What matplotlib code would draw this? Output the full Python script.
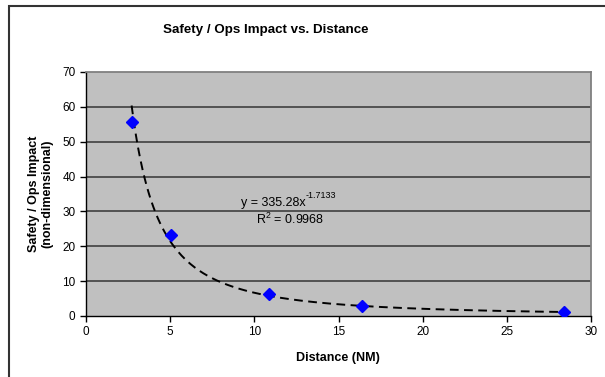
import matplotlib
matplotlib.use('Agg')
import matplotlib.pyplot as plt
from matplotlib.patches import Rectangle
import numpy as np

plt.rcParams['font.family'] = ['Liberation Sans', 'DejaVu Sans']

# data
distance = [2.71, 5.03, 10.89, 16.4, 28.42]
impact = [55.6, 23.1, 6.2, 2.8, 1.1]
x_ticks = [0, 5, 10, 15, 20, 25, 30]
y_ticks = [0, 10, 20, 30, 40, 50, 60, 70]
fit_base = 'y = 335.28x'
fit_exp = '-1.7133'
r2_label = 'R$^{\\mathregular{2}}$ = 0.9968'

fig = plt.figure(figsize=(6.05, 3.77), dpi=100)
ax = fig.add_axes([86/605, 1-316/377, 505/605, 244/377])
ax.set_facecolor('#C0C0C0')

# power trendline fitted to the points (same as Excel's power fit)
b, loga = np.polyfit(np.log(distance), np.log(impact), 1)
xs = np.linspace(min(distance), max(distance), 200)
ax.plot(xs, np.exp(loga) * xs**b, color='black', lw=1.4, dashes=(4.5, 2.8), zorder=3)
ax.plot(distance, impact, 'D', color='#0000FF', ms=6, zorder=4)

ax.set_xlim(0, 30)
ax.set_ylim(0, 70)
ax.set_xticks(x_ticks)
ax.set_yticks(y_ticks)
for v in y_ticks[1:-1]:
    ax.axhline(v, color='#404040', lw=1.2, zorder=1)

for s in ['top', 'right']:
    ax.spines[s].set_color('#808080')
    ax.spines[s].set_linewidth(1.3)
for s in ['left', 'bottom']:
    ax.spines[s].set_color('black')
    ax.spines[s].set_linewidth(1.0)
ax.tick_params(direction='out', length=4, width=1, labelsize=8.5, colors='black')

fig.text(338/605, 1-358/377, 'Distance (NM)', ha='center', va='center',
         fontsize=9, fontweight='bold')
fig.text(40.5/605, 1-194/377, 'Safety / Ops Impact\n(non-dimensional)', ha='center', va='center',
         rotation=90, multialignment='center', fontsize=9, fontweight='bold', linespacing=1.1)
fig.text(266/605, 1-30/377, 'Safety / Ops Impact vs. Distance', ha='center', va='center',
         fontsize=9.6, fontweight='bold')

t1 = ax.text(9.2, 32.3, fit_base, ha='left', va='center', fontsize=9)
ax.annotate(fit_exp, xy=(1, 0.75), xycoords=t1, ha='left', va='bottom', fontsize=6.5)
ax.text(12.1, 27.6, r2_label, ha='center', va='center', fontsize=9)

# outer chart border (only left and top visible)
fig.patches.append(Rectangle((9/605, -0.2), 1.2, 1.2 - 6.5/377, transform=fig.transFigure,
                             fill=False, ec='#333333', lw=1.5, clip_on=False))

fig.savefig('out.png', dpi=100)
